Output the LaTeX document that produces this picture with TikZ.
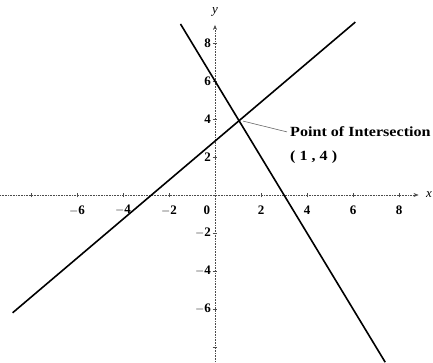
\documentclass[tikz,border=0pt]{standalone}
\usepackage{fontspec}
\setmainfont{Liberation Serif}
\usetikzlibrary{arrows.meta}
\begin{document}
\begin{tikzpicture}[x=23pt,y=19pt,
  axisline/.style={draw=black!70, line width=0.6pt, densely dotted},
  graphline/.style={draw=black, line width=1.6pt},
  ticklbl/.style={font=\bfseries\fontsize{13}{13}\selectfont, inner sep=0pt},
  notelbl/.style={font=\bfseries\fontsize{14}{15}\selectfont, inner sep=0pt, anchor=west, xscale=1.15},
  leader/.style={draw=black!60, line width=0.6pt}]
\useasboundingbox (-9.348,-8.842) rectangle (9.478,10.263);
% axes
\coordinate (xa) at (-9.35,0);
\coordinate (xb) at (8.85,0);
\coordinate (ya) at (0,-8.85);
\coordinate (yb) at (0,8.95);
\draw[axisline, -{Stealth[length=5pt,width=4pt]}] (xa) -- (xb);
\draw[axisline, -{Stealth[length=5pt,width=4pt]}] (ya) -- (yb);
\foreach \k in {-8,-6,-4,-2,2,4,6,8}{
  \draw[black!70, line width=0.5pt] (\k,-0.12) -- (\k,0.12);
  \draw[black!70, line width=0.5pt] (-0.1,\k) -- (0.1,\k);
}
\node[font=\itshape\fontsize{13}{13}\selectfont, inner sep=0pt] (xl) at (9.3,0) {x};
\node[font=\itshape\fontsize{13}{13}\selectfont, inner sep=0pt] (yl) at (0,9.65) {y};
% x tick labels
\foreach \k in {-6,-4,-2,2,4,6,8}{
  \node[ticklbl] (xt\k) at (\k,-0.8) {$\mathbf{\k}$};
}
\node[ticklbl] (xt0) at (-0.35,-0.8) {0};
% y tick labels
\foreach \k in {-6,-4,-2,2,4,6,8}{
  \node[ticklbl, anchor=east] (yt\k) at (-0.17,\k) {$\mathbf{\k}$};
}
% lines
\coordinate (a1) at (-8.8,-6.2);
\coordinate (a2) at (6.1,9.1);
\coordinate (b1) at (-1.5,9.0);
\coordinate (b2) at (7.4,-8.8);
\draw[graphline] (a1) -- (a2);
\draw[graphline] (b1) -- (b2);
% intersection annotation
\coordinate (p) at (1.22,3.89);
\node[notelbl] (pt) at (3.26,3.32) {Point of Intersection};
\node[notelbl] (pc) at (3.26,2.0) {( 1 , 4 )};
\draw[leader] (p) -- ([xshift=-3pt]pt.west);
\end{tikzpicture}
\end{document}
